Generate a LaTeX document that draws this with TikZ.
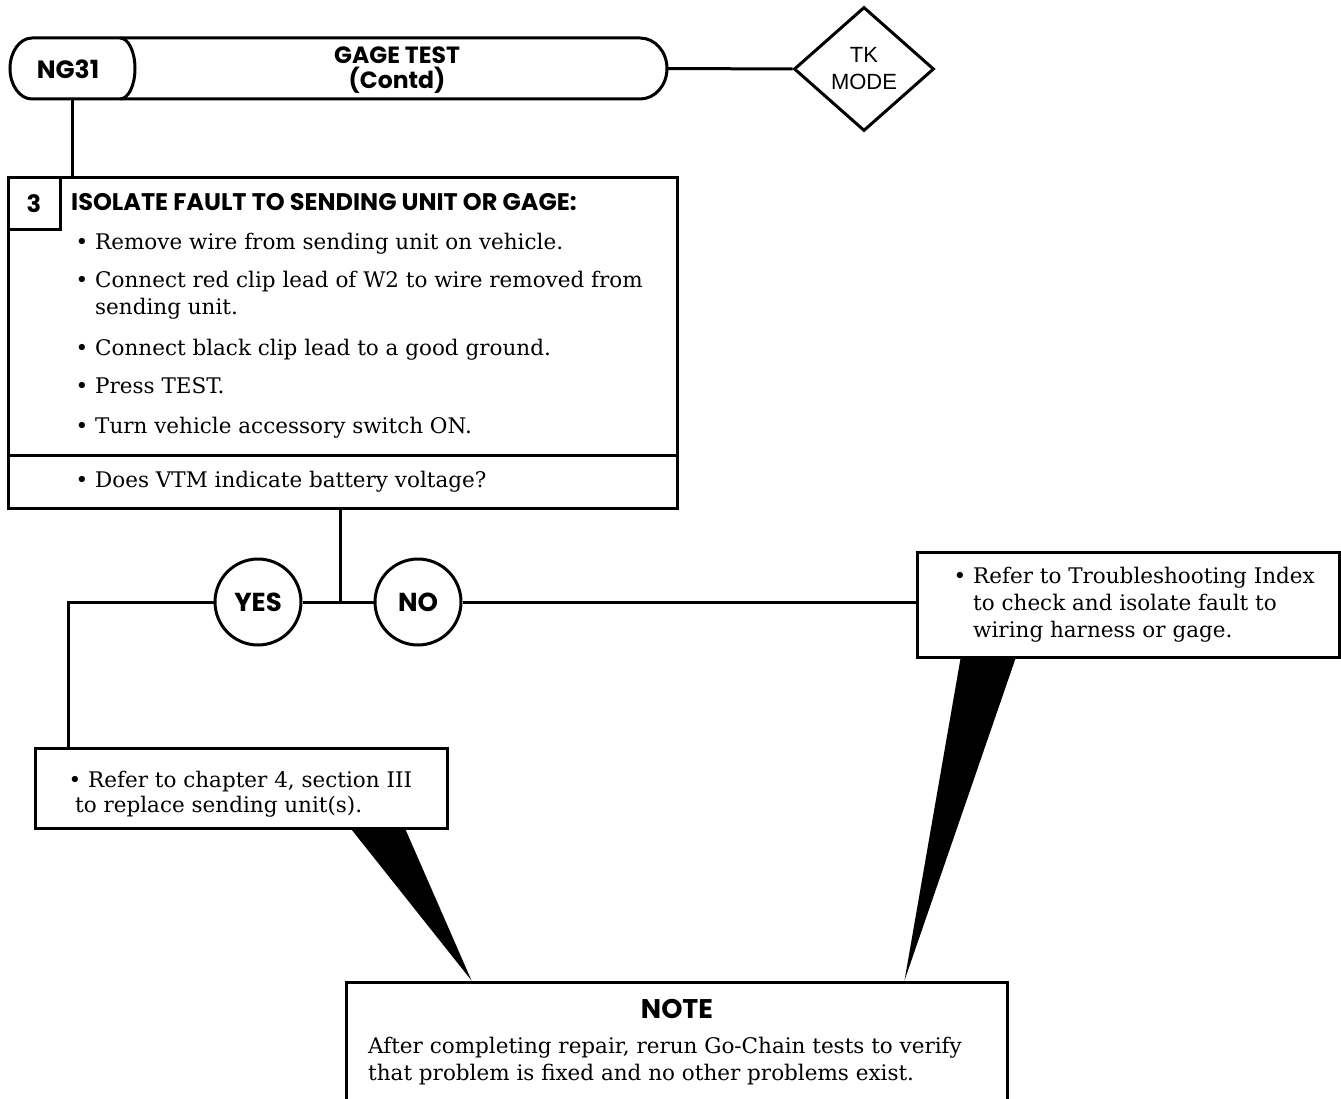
\documentclass[tikz,border=0pt]{standalone}
\usepackage{fontspec}
\setmainfont{DejaVu Serif}
\newfontfamily\geofont{Poppins}
\newfontfamily\helvfont{Liberation Sans}
\usetikzlibrary{fit,calc,shapes.geometric,backgrounds}
\newcommand\bodysize{\fontsize{21.5}{27}\selectfont}
\newcommand\capsize{\geofont\bfseries\fontsize{24}{25}\selectfont}
\newcommand\bul{\llap{\textbullet\hspace{7pt}}}
\tikzset{
  link/.style={line width=3pt},
  stepbox/.style={draw, line width=3pt, inner sep=0pt, fill=white},
  caps/.style={inner sep=0pt, font=\capsize},
  body/.style={anchor=base west, inner sep=0pt, font=\bodysize},
  answer/.style={draw, circle, line width=3pt, minimum size=86pt, inner sep=0pt, fill=white, font=\geofont\bfseries\fontsize{26}{27}\selectfont},
  tailfill/.style={fill=black},
}

\begin{document}
\begin{tikzpicture}[x=1pt, y=-1pt]
  \useasboundingbox (0,0) rectangle (1341,1099);

  % TITLE BAR
  \draw[link] (32,38) -- (640,38) .. controls (654.9,38) and (667,51.65) .. (667,68.5)
    .. controls (667,85.35) and (654.9,99) .. (640,99) -- (32,99)
    .. controls (19.85,99) and (10,85.35) .. (10,68.5)
    .. controls (10,51.65) and (19.85,38) .. (32,38) -- cycle;
  \draw[link] (120,38) .. controls (128.3,38) and (135,51.65) .. (135,68.5)
    .. controls (135,85.35) and (128.3,99) .. (120,99);
  \node[inner sep=0pt, fit={(10,38) (135,99)}] (ngcap) {};
  \node[inner sep=0pt, fit={(10,38) (667,99)}] (bar) {};
  \node[caps, font=\geofont\bfseries\fontsize{25}{25}\selectfont] (ng) at (68,69) {NG31};
  \node[caps, align=center, font=\geofont\bfseries\fontsize{23.5}{25}\selectfont] (title) at (397,70) {GAGE TEST\\(Contd)};

  % TK MODE
  \node[draw, diamond, link, minimum width=140pt, minimum height=124pt, inner sep=0pt,
    align=center, font=\helvfont\fontsize{22}{27}\selectfont] (tk) at (864,69) {TK\\MODE};
  \draw[link] (bar.east) -- (tk.west);

  % STEP 3
  \node[stepbox, fit={(8,178) (677,455)}] (step3) {};
  \node[stepbox, fit={(8,455) (677,508)}] (query) {};
  \node[stepbox, fit={(8,178) (60,230)}] (num) {};
  \node[caps] (numtext) at (num.center) {3};
  \draw[link] (ngcap.south) -- (ngcap.south |- step3.north);
  \node[caps, anchor=base west] (head) at (71,211) {ISOLATE FAULT TO SENDING UNIT OR GAGE:};
  \node[body] (s1) at (95,250) {\bul Remove wire from sending unit on vehicle.};
  \node[body] (s2) at (95,288) {\bul Connect red clip lead of W2 to wire removed from};
  \node[body] (s2b) at (95,315) {sending unit.};
  \node[body] (s3) at (95,355) {\bul Connect black clip lead to a good ground.};
  \node[body] (s4) at (95,393) {\bul Press TEST.};
  \node[body] (s5) at (95,433) {\bul Turn vehicle accessory switch ON.};
  \node[body] (q1) at (95,487) {\bul Does VTM indicate battery voltage?};

  % YES / NO
  \node[answer] (yes) at (258,602) {YES};
  \node[answer] (no) at (418,602) {NO};
  \coordinate (fork) at (340,602);
  \coordinate (yesbend) at (68,602);
  \draw[link] (fork |- query.south) -- (fork);
  \draw[link] (yes) -- (no);

  % RESULT BOXES
  \node[stepbox, fit={(35,748) (447,828)}] (repl) {};
  \node[body] (r1) at (88,787) {\bul Refer to chapter 4, section III};
  \node[body] (r2) at (75,812) {to replace sending unit(s).};
  \draw[link] (yes) -- (yesbend) -- (yesbend |- repl.north);

  \node[stepbox, fit={(917,552) (1339,657)}] (harness) {};
  \node[body] (h1) at (973,583) {\bul Refer to Troubleshooting Index};
  \node[body] (h2) at (973,610) {to check and isolate fault to};
  \node[body] (h3) at (973,637) {wiring harness or gage.};
  \draw[link] (no) -- (no -| harness.west);

  % NOTE
  \node[stepbox, fit={(346,982) (1007,1115)}] (notebox) {};
  \node[caps, anchor=base, font=\geofont\bfseries\fontsize{27}{27}\selectfont] (notehead) at (677,1018) {NOTE};
  \node[body] (n1) at (368,1053) {After completing repair, rerun Go-Chain tests to verify};
  \node[body] (n2) at (368,1080) {that problem is fixed and no other problems exist.};

  % POINTERS
  \begin{scope}[on background layer]
    \fill[white] (0,0) rectangle (1341,1099);
    \fill[tailfill] ($(repl.south west)+(318,0)$) -- ($(repl.south west)+(372,0)$) -- ($(notebox.north west)+(127,0)$) -- cycle;
    \fill[tailfill] ($(harness.south west)+(45,0)$) -- ($(harness.south west)+(100,0)$) -- ($(notebox.north west)+(560,0)$) -- cycle;
  \end{scope}
\end{tikzpicture}
\end{document}
